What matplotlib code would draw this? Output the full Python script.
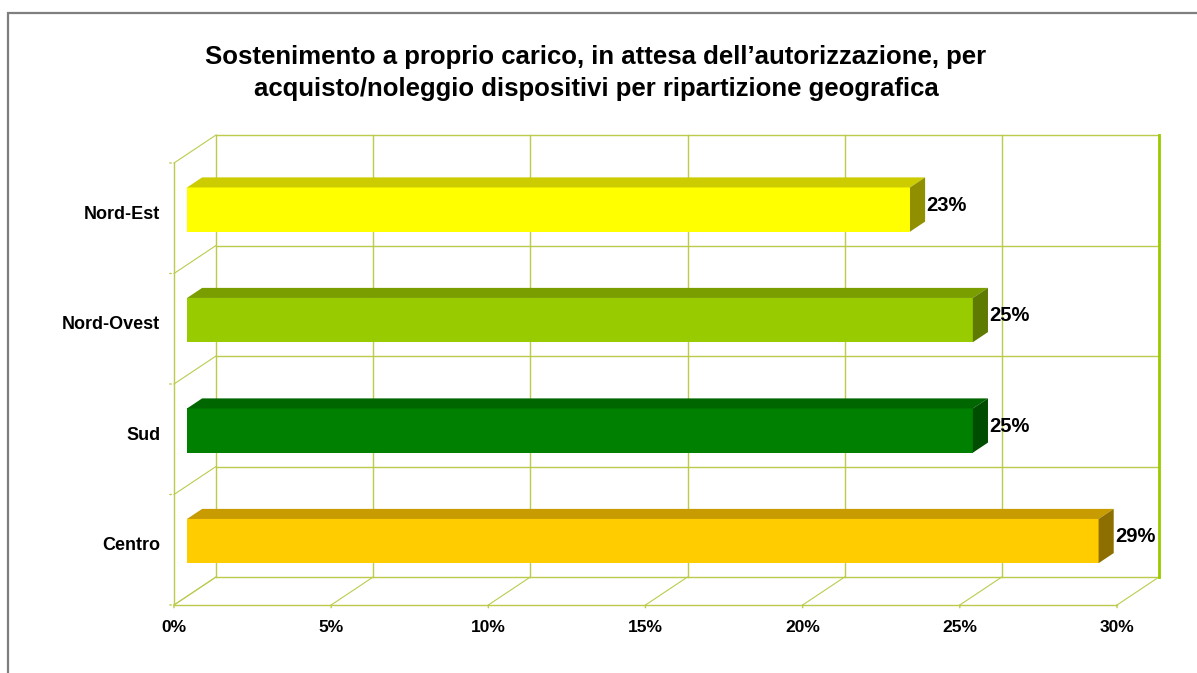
import matplotlib
matplotlib.use('Agg')
import matplotlib.pyplot as plt
from matplotlib.patches import Polygon, Rectangle

plt.rcParams['font.family'] = ['Liberation Sans', 'DejaVu Sans']

# data (top to bottom as shown)
regions = ['Nord-Est', 'Nord-Ovest', 'Sud', 'Centro']
values = [23, 25, 25, 29]
face_colors = ['#FFFF00', '#99CC00', '#008000', '#FFCC00']
top_colors = ['#CCCC00', '#7A9E00', '#006600', '#C89B00']
side_colors = ['#8F8F00', '#5E7A00', '#004C00', '#8C6F00']
xticks = [0, 5, 10, 15, 20, 25, 30]
title = ('Sostenimento a proprio carico, in attesa dell\u2019autorizzazione, per\n'
         'acquisto/noleggio dispositivi per ripartizione geografica')

W, H = 1197, 673
fig = plt.figure(figsize=(W / 100, H / 100), dpi=100)

# outer chart frame (right and bottom edges fall outside the image)
fig.patches.append(Rectangle((8 / W, -0.1), 1.2, 1 - 13 / H + 0.1, transform=fig.transFigure,
                             fill=False, edgecolor='#7f7f7f', linewidth=1.6))

fig.text(596 / W, 1 - 73 / H, title, ha='center', va='center', fontsize=18.5,
         fontweight='bold', linespacing=1.38)

# front plane of the 3d box
ax = fig.add_axes([174 / W, 1 - 605 / H, (1117 - 174) / W, (605 - 163) / H])
ax.set_xlim(0, 30)
ax.set_ylim(0, 4)
ax.axis('off')

n = len(regions)
dx = 42 / (943 / 30)      # depth offset in % units
dy = 28 / (442 / 4)       # depth offset in category units
grid_c = '#BCCB4C'
grid_kw = dict(color=grid_c, linewidth=1.0, clip_on=False, zorder=1)

# back wall
for x in xticks:
    ax.plot([x + dx, x + dx], [dy, n + dy], **grid_kw)
for y in range(n + 1):
    ax.plot([dx, 30 + dx], [y + dy, y + dy], **grid_kw)
# left wall and floor diagonals
for y in range(n + 1):
    ax.plot([0, dx], [y, y + dy], color=grid_c, linewidth=0.8, clip_on=False, zorder=1)
for x in xticks:
    ax.plot([x, x + dx], [0, dy], color=grid_c, linewidth=0.8, clip_on=False, zorder=1)
# front edges
ax.plot([0, 0], [0, n], **grid_kw)
ax.plot([0, 30], [0, 0], **grid_kw)
ax.plot([30 + dx, 30 + dx], [dy, n + dy], color='#99CC00', linewidth=2, clip_on=False, zorder=1)
for y in range(n + 1):
    ax.annotate('', xy=(0, y), xytext=(-5, 0), textcoords='offset points',
                arrowprops=dict(arrowstyle='-', color=grid_c, lw=1.0), annotation_clip=False)
for x in xticks:
    ax.annotate('', xy=(x, 0), xytext=(0, -4), textcoords='offset points',
                arrowprops=dict(arrowstyle='-', color=grid_c, lw=1.0), annotation_clip=False)

# 3d bars sit between these depth fractions
d0, d1 = 0.31, 0.67
bh = 0.4
for i, (name, v) in enumerate(zip(regions, values)):
    yc = n - 1 - i + 0.5
    x0, x1 = d0 * dx, v + d0 * dx
    y0, y1 = yc - bh / 2 + d0 * dy, yc + bh / 2 + d0 * dy
    ox, oy = (d1 - d0) * dx, (d1 - d0) * dy
    ax.add_patch(Polygon([(x0, y0), (x1, y0), (x1, y1), (x0, y1)],
                         facecolor=face_colors[i], edgecolor='none', zorder=3, clip_on=False))
    ax.add_patch(Polygon([(x0, y1), (x1, y1), (x1 + ox, y1 + oy), (x0 + ox, y1 + oy)],
                         facecolor=top_colors[i], edgecolor='none', zorder=3, clip_on=False))
    ax.add_patch(Polygon([(x1, y0), (x1 + ox, y0 + oy), (x1 + ox, y1 + oy), (x1, y1)],
                         facecolor=side_colors[i], edgecolor='none', zorder=3, clip_on=False))
    ax.annotate(f'{v}%', xy=(x1 + ox, yc + d0 * dy), xytext=(1, 3), textcoords='offset points',
                ha='left', va='center', fontsize=14.5, fontweight='bold',
                annotation_clip=False, zorder=4)
    ax.annotate(name, xy=(0, yc), xytext=(-10, 3), textcoords='offset points',
                ha='right', va='center', fontsize=13, fontweight='bold', annotation_clip=False)

for x in xticks:
    ax.annotate(f'{x}%', xy=(x, 0), xytext=(0, -16), textcoords='offset points',
                ha='center', va='center', fontsize=12.5, fontweight='bold', annotation_clip=False)

fig.savefig('out.png', dpi=100, facecolor='white')
